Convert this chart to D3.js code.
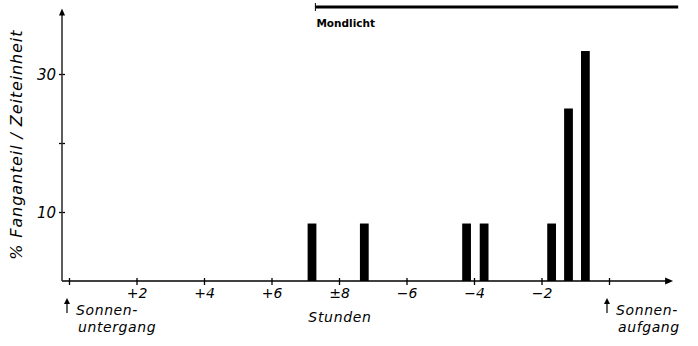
<!DOCTYPE html>
<html>
<head>
<meta charset="utf-8">
<script src="https://cdn.jsdelivr.net/npm/d3@7/dist/d3.min.js"></script>
<style>
  html, body { margin: 0; padding: 0; background: #fff; }
  svg { display: block; }
  text { font-family: "DejaVu Sans", sans-serif; font-style: italic; fill: #000; }
</style>
</head>
<body>
<svg id="chart" width="698" height="346"></svg>
<script>
// Hours after sunset (0 = Sonnenuntergang, 16 = Sonnenaufgang)
const tickHours  = [0, 2, 4, 6, 8, 10, 12, 14, 16];
const tickLabels = ["", "+2", "+4", "+6", "±8", "−6", "−4", "−2", ""];

// Catch share per time unit (%) for each half-hour class
const barHours  = [7.2, 8.75, 11.78, 12.3, 14.3, 14.8, 15.3];
const barValues = [8.33, 8.33, 8.33, 8.33, 8.33, 25, 33.33];
const barWidthHours = 0.26;

const yTicks      = [10, 20, 30];
const yTickLabels = ["10", "", "30"];

// Period with moonlight (hours on the same axis)
const moonStart = 7.3, moonEnd = 18.05;

const svg = d3.select("#chart");

const x = d3.scaleLinear().domain([0, 16]).range([69, 609]);
const y = d3.scaleLinear().domain([0, 40]).range([281, 5]);

const axisX0 = 62;          // y-axis position
const xEnd = x(17.9);       // x-axis arrow tip
const yTop = y(39.5);       // y-axis arrow tip

// Bars
svg.append("g").selectAll("rect")
  .data(barHours.map((h, i) => ({h, v: barValues[i]})))
  .join("rect")
  .attr("x", d => x(d.h - barWidthHours / 2))
  .attr("width", d => x(d.h + barWidthHours / 2) - x(d.h - barWidthHours / 2))
  .attr("y", d => y(d.v))
  .attr("height", d => y(0) - y(d.v))
  .attr("fill", "#000");

// X axis
const gx = svg.append("g").attr("transform", `translate(0,${y(0)})`)
  .call(d3.axisBottom(x).tickValues(tickHours).tickFormat((d, i) => tickLabels[i]).tickSize(4));
gx.select(".domain").remove();
gx.selectAll(".tick line").attr("y1", -3).attr("y2", 4).attr("stroke", "#000").attr("stroke-width", 1.3);
gx.selectAll(".tick text")
  .attr("y", 17).attr("dy", 0)
  .style("font-size", "14px").style("font-family", "DejaVu Sans").style("font-style", "italic")
  .attr("fill", "#000");
svg.append("line")
  .attr("x1", axisX0).attr("x2", xEnd - 4)
  .attr("y1", y(0)).attr("y2", y(0))
  .attr("stroke", "#000").attr("stroke-width", 1.6);
svg.append("path")
  .attr("d", `M${xEnd},${y(0)} L${xEnd - 8},${y(0) - 3.5} L${xEnd - 8},${y(0) + 3.5} Z`)
  .attr("fill", "#000");

// Y axis
const gy = svg.append("g").attr("transform", `translate(${axisX0},0)`)
  .call(d3.axisLeft(y).tickValues(yTicks).tickFormat((d, i) => yTickLabels[i]).tickSize(4));
gy.select(".domain").remove();
gy.selectAll(".tick line").attr("x1", -3).attr("x2", 3).attr("stroke", "#000").attr("stroke-width", 1.3);
gy.selectAll(".tick text")
  .attr("x", -6).attr("dy", "0.35em")
  .style("font-size", "15px").style("font-family", "DejaVu Sans").style("font-style", "italic")
  .attr("fill", "#000");
svg.append("line")
  .attr("x1", axisX0).attr("x2", axisX0)
  .attr("y1", y(0)).attr("y2", yTop + 4)
  .attr("stroke", "#333").attr("stroke-width", 1.6);
svg.append("path")
  .attr("d", `M${axisX0},${yTop} L${axisX0 - 3},${yTop + 7} L${axisX0 + 3},${yTop + 7} Z`)
  .attr("fill", "#000");

// Y axis title
svg.append("text")
  .attr("transform", `translate(22,${(y(0) + yTop) / 2}) rotate(-90)`)
  .attr("text-anchor", "middle")
  .style("font-size", "16px").style("letter-spacing", "0.9px")
  .text("% Fanganteil / Zeiteinheit");

// Moonlight bar
svg.append("line")
  .attr("x1", x(moonStart)).attr("x2", x(moonEnd))
  .attr("y1", 7).attr("y2", 7)
  .attr("stroke", "#000").attr("stroke-width", 3);
svg.append("line")
  .attr("x1", x(moonStart)).attr("x2", x(moonStart))
  .attr("y1", 3).attr("y2", 11)
  .attr("stroke", "#000").attr("stroke-width", 1);
svg.append("text")
  .attr("x", x(moonStart) + 1).attr("y", 27)
  .style("font-size", "10.5px").style("font-style", "normal").style("font-weight", "bold")
  .text("Mondlicht");

// Sunset / sunrise markers
function sunLabel(hour, line1, line2) {
  const g = svg.append("g");
  const ax = x(hour) - 2;
  g.append("line").attr("x1", ax).attr("x2", ax).attr("y1", 301).attr("y2", 313)
    .attr("stroke", "#000").attr("stroke-width", 1.2);
  g.append("path").attr("d", `M${ax},298 L${ax - 3},304 L${ax + 3},304 Z`).attr("fill", "#000");
  g.append("text").attr("x", ax + 9).attr("y", 315)
    .style("font-size", "14px").style("letter-spacing", "0.6px").text(line1);
  g.append("text").attr("x", ax + 11).attr("y", 332)
    .style("font-size", "14px").style("letter-spacing", "0.6px").text(line2);
}
sunLabel(0, "Sonnen-", "untergang");
sunLabel(16, "Sonnen-", "aufgang");

// X axis title
svg.append("text")
  .attr("x", x(8) + 1).attr("y", 322)
  .attr("text-anchor", "middle")
  .style("font-size", "14px").style("letter-spacing", "0.7px")
  .text("Stunden");
</script>
</body>
</html>
